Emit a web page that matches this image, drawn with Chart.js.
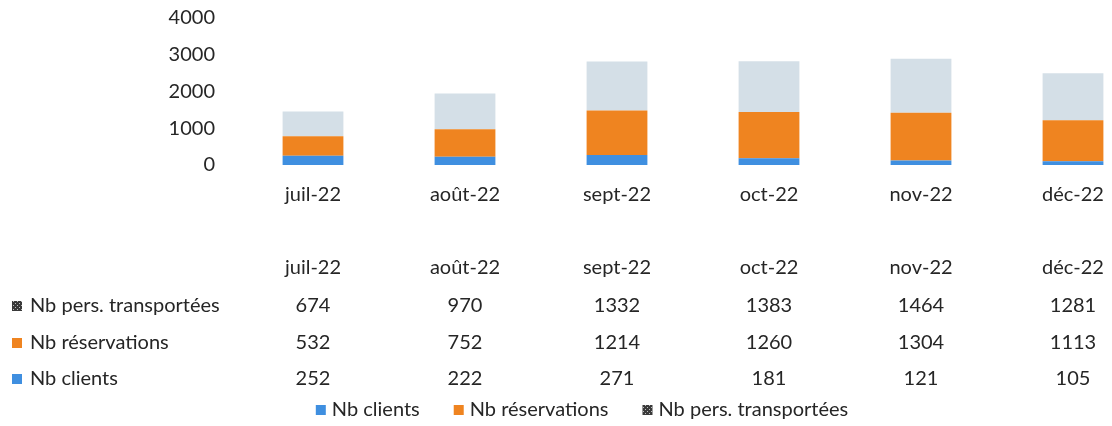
<!DOCTYPE html>
<html><head><meta charset="utf-8">
<script src="https://cdn.jsdelivr.net/npm/chart.js@4/dist/chart.umd.min.js"></script>
<style>
html,body{margin:0;padding:0;background:#fff;overflow:hidden}
#wrap{width:1152px;height:426px;position:relative}
</style>
</head><body>
<div id="wrap"><canvas id="c"></canvas></div>
<script>
const categories = ['juil-22','août-22','sept-22','oct-22','nov-22','déc-22'];
const clients = [252,222,271,181,121,105];
const reservations = [532,752,1214,1260,1304,1113];
const transported = [674,970,1332,1383,1464,1281];
const seriesNames = ['Nb clients','Nb réservations','Nb pers. transportées'];
const yTickValues = [0,1000,2000,3000,4000];

const FONT = 'Lato';
const FS = 20;
const TEXT = '#262626';
const BLUE = '#3f8fe0';
const ORANGE = '#ef8420';
const GREY = '#d4dfe7';

function makeIconPattern(){
  const c = document.createElement('canvas');
  c.width = 4; c.height = 4;
  const g = c.getContext('2d');
  g.fillStyle = '#3a3a3a'; g.fillRect(0,0,4,4);
  g.fillStyle = '#bfbfbf'; g.fillRect(1,1,1,1); g.fillRect(3,3,1,1);
  return g.createPattern(c,'repeat');
}
const iconPattern = makeIconPattern();
const iconFills = [BLUE, ORANGE, iconPattern];

const tablePlugin = {
  id:'dataTable',
  afterDraw(chart){
    const ctx = chart.ctx;
    const xs = chart.scales.x;
    ctx.save();
    ctx.font = FS + 'px ' + FONT;
    ctx.fillStyle = TEXT;
    ctx.textBaseline = 'middle';
    ctx.textAlign = 'center';
    const headerY = 268;
    categories.forEach((c,i)=>ctx.fillText(c, xs.getPixelForValue(i), headerY));
    const rows = [
      {name:seriesNames[2], vals:transported, fill:iconFills[2], y:306},
      {name:seriesNames[1], vals:reservations, fill:iconFills[1], y:343},
      {name:seriesNames[0], vals:clients, fill:iconFills[0], y:379}
    ];
    rows.forEach(r=>{
      ctx.fillStyle = r.fill;
      ctx.fillRect(12, r.y-5, 10, 10);
      ctx.fillStyle = TEXT;
      ctx.textAlign = 'left';
      ctx.fillText(r.name, 30, r.y);
      ctx.textAlign = 'center';
      r.vals.forEach((v,i)=>ctx.fillText(String(v), xs.getPixelForValue(i), r.y));
    });

    // legend
    const legY = 410, box = 10, gapBT = 6, gapItem = 34, center = 582;
    const widths = seriesNames.map(n=>ctx.measureText(n).width);
    const total = widths.reduce((a,w)=>a+box+gapBT+w,0) + gapItem*(seriesNames.length-1);
    let x = center - total/2;
    ctx.textAlign = 'left';
    seriesNames.forEach((n,i)=>{
      ctx.fillStyle = iconFills[i];
      ctx.fillRect(x, legY-5, box, box);
      x += box + gapBT;
      ctx.fillStyle = TEXT;
      ctx.fillText(n, x, legY);
      x += widths[i] + gapItem;
    });
    ctx.restore();
  }
};

new Chart(document.getElementById('c'), {
  type:'bar',
  data:{
    labels:categories,
    datasets:[
      {label:seriesNames[0], data:clients, backgroundColor:BLUE},
      {label:seriesNames[1], data:reservations, backgroundColor:ORANGE},
      {label:seriesNames[2], data:transported, backgroundColor:GREY}
    ]
  },
  options:{
    responsive:true,
    maintainAspectRatio:false,
    animation:false,
    datasets:{bar:{categoryPercentage:0.8, barPercentage:0.5}},
    layout:{padding:{top:0,right:3,left:0,bottom:0}},
    plugins:{
      tooltip:{enabled:false},
      legend:{display:false}
    },
    scales:{
      x:{
        stacked:true,
        grid:{display:false},
        border:{display:false},
        ticks:{font:{family:FONT,size:FS},color:TEXT,padding:10},
        afterFit(axis){ axis.height = 261; }
      },
      y:{
        stacked:true,
        min:0,max:4000,
        afterBuildTicks(axis){ axis.ticks = yTickValues.map(v=>({value:v})); },
        grid:{display:false},
        border:{display:false},
        ticks:{font:{family:FONT,size:FS,lineHeight:0.75},color:TEXT,padding:14,callback:(v)=>String(v)},
        afterFit(axis){ axis.width = 237; axis.paddingTop = 18; }
      }
    }
  },
  plugins:[tablePlugin]
});
</script>
</body></html>
